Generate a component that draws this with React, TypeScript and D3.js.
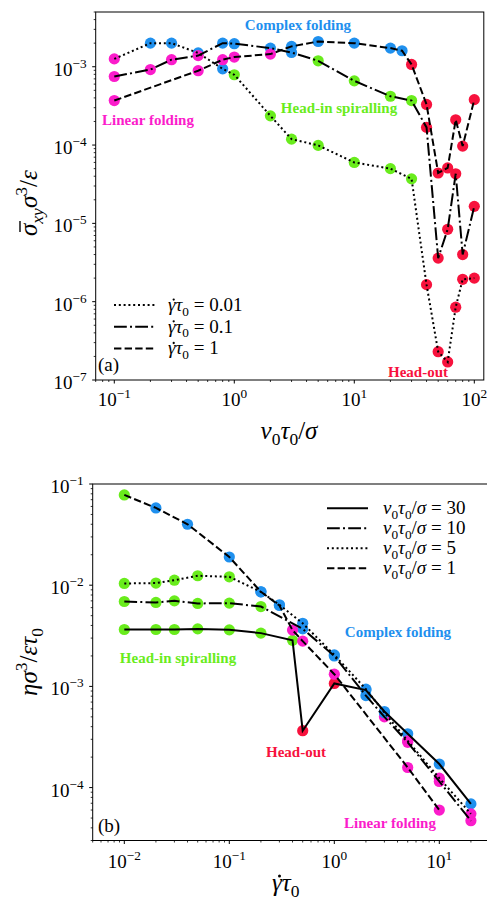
import React from 'react';
import * as d3 from 'd3';

const W = 487;
const H = 902;
const FONT = 'Liberation Serif';

type Phase = 'L' | 'C' | 'H' | 'O';
const PHASE_FILL: Record<Phase, string> = {
  L: '#fb1ccb',
  C: '#1f90ee',
  H: '#69ec1c',
  O: '#f7123d',
};

// ---------- Panel (a): mean shear stress vs. active speed v0*tau0/sigma ----------
const speedA_r001 = [0.1, 0.2, 0.3, 0.5, 0.8, 1, 2, 3, 5, 10, 20, 30, 40, 50, 60, 70, 80, 100];
const stressA_r001 = [1.26e-3, 2.0e-3, 2.0e-3, 1.5e-3, 9.4e-4, 7.9e-4, 2.36e-4, 1.19e-4, 9.9e-5, 6.0e-5, 5.0e-5, 3.7e-5, 1.65e-6, 2.3e-7, 1.7e-7, 8.5e-7, 1.93e-6, 2.0e-6];
const phaseA_r001: Phase[] = ['L', 'C', 'C', 'C', 'C', 'H', 'H', 'H', 'H', 'H', 'H', 'H', 'O', 'O', 'O', 'O', 'O', 'O'];

const speedA_r01 = [0.1, 0.2, 0.3, 0.5, 0.8, 1, 2, 3, 5, 10, 20, 30, 40, 50, 60, 70, 80, 100];
const stressA_r01 = [7.5e-4, 9.2e-4, 1.23e-3, 1.39e-3, 2.0e-3, 1.97e-3, 1.73e-3, 1.52e-3, 1.19e-3, 6.6e-4, 4.2e-4, 3.7e-4, 1.68e-4, 3.6e-6, 8.4e-6, 4.3e-5, 4.0e-6, 1.65e-5];
const phaseA_r01: Phase[] = ['L', 'L', 'L', 'L', 'C', 'C', 'C', 'C', 'H', 'H', 'H', 'H', 'O', 'O', 'O', 'O', 'O', 'O'];

const speedA_r1 = [0.1, 0.5, 0.8, 1, 2, 3, 5, 10, 20, 25, 30, 40, 50, 60, 70, 80, 100];
const stressA_r1 = [3.7e-4, 8.9e-4, 1.23e-3, 1.33e-3, 1.45e-3, 1.82e-3, 2.1e-3, 2.0e-3, 1.73e-3, 1.6e-3, 1.07e-3, 3.3e-4, 4.4e-5, 5.1e-5, 2.1e-4, 9.7e-5, 3.8e-4];
const phaseA_r1: Phase[] = ['L', 'L', 'L', 'L', 'L', 'C', 'C', 'C', 'C', 'C', 'O', 'O', 'O', 'O', 'O', 'O', 'O'];

const legendA = ['0.01', '0.1', '1'];

// ---------- Panel (b): viscosity vs. shear rate ----------
const rateB_v30 = [0.01, 0.02, 0.03, 0.05, 0.1, 0.2, 0.4, 0.5, 1, 2, 3, 5, 10, 20];
const viscB_v30 = [3.65e-3, 3.65e-3, 3.65e-3, 3.7e-3, 3.62e-3, 3.36e-3, 2.85e-3, 3.65e-4, 1.07e-3, 9.2e-4, 5.65e-4, 3.4e-4, 1.71e-4, 6.9e-5];
const phaseB_v30: Phase[] = ['H', 'H', 'H', 'H', 'H', 'H', 'H', 'O', 'O', 'C', 'C', 'C', 'C', 'C'];

const rateB_v10 = [0.01, 0.02, 0.03, 0.05, 0.1, 0.2, 0.5, 1, 2, 3, 5, 10, 20];
const viscB_v10 = [6.9e-3, 6.75e-3, 7.0e-3, 6.6e-3, 6.65e-3, 6.15e-3, 3.7e-3, 2.0e-3, 8.1e-4, 5.0e-4, 2.8e-4, 1.15e-4, 4.7e-5];
const phaseB_v10: Phase[] = ['H', 'H', 'H', 'H', 'H', 'H', 'C', 'C', 'C', 'L', 'L', 'L', 'L'];

const rateB_v5 = [0.01, 0.02, 0.03, 0.05, 0.1, 0.2, 0.3, 0.5, 1, 2, 3, 5, 10, 20];
const viscB_v5 = [1.04e-2, 1.05e-2, 1.12e-2, 1.24e-2, 1.21e-2, 8.6e-3, 6.4e-3, 4.2e-3, 2.05e-3, 9.4e-4, 5.5e-4, 2.9e-4, 1.24e-4, 5.5e-5];
const phaseB_v5: Phase[] = ['H', 'H', 'H', 'H', 'H', 'C', 'C', 'C', 'C', 'C', 'C', 'L', 'L', 'L'];

const rateB_v1 = [0.01, 0.02, 0.04, 0.1, 0.2, 0.3, 0.4, 0.5, 1, 5, 10];
const viscB_v1 = [7.8e-2, 5.8e-2, 4.0e-2, 1.9e-2, 8.6e-3, 6.3e-3, 3.6e-3, 2.8e-3, 1.32e-3, 1.58e-4, 6.0e-5];
const phaseB_v1: Phase[] = ['H', 'C', 'C', 'C', 'C', 'C', 'L', 'L', 'L', 'L', 'L'];

const legendB = ['30', '10', '5', '1'];

// line styles (dash patterns)
const DOTTED = '2,2.8';
const DASHDOT = '12.8,3.2,2,3.2';
const DASHED = '7.4,3.2';
const SOLID = 'none';

// ---------- scales ----------
const xA = d3.scaleLog().domain([0.07, 120]).range([95.7, 483.8]);
const yA = d3.scaleLog().domain([1e-7, 5e-3]).range([380, 12]);
const xB = d3.scaleLog().domain([0.005, 30]).range([92.7, 489.4]);
const yB = d3.scaleLog().domain([3e-5, 0.1]).range([840.5, 484]);

type Seg = { t: string; it?: boolean; sub?: boolean; sup?: boolean };

function mathSpans(segs: Seg[], fs: number) {
  let shift = 0;
  return segs.map((s, i) => {
    const target = s.sub ? 0.24 * fs : s.sup ? -0.42 * fs : 0;
    const dy = target - shift;
    shift = target;
    return (
      <tspan
        key={i}
        dy={dy}
        fontFamily={FONT}
        fontSize={s.sub || s.sup ? fs * 0.7 : fs}
        fontStyle={s.it ? 'italic' : 'normal'}
      >
        {s.t}
      </tspan>
    );
  });
}

function decadeLabel(k: number): Seg[] {
  return [{ t: '10' }, { t: k < 0 ? '\u2212' + Math.abs(k) : String(k), sup: true }];
}

function logTicks(domain: number[]) {
  const lo = Math.log10(domain[0]);
  const hi = Math.log10(domain[1]);
  const major: number[] = [];
  const minor: number[] = [];
  for (let k = Math.floor(lo); k <= Math.ceil(hi); k++) {
    for (let m = 1; m <= 9; m++) {
      const v = m * Math.pow(10, k);
      const lv = Math.log10(v);
      if (lv < lo - 1e-9 || lv > hi + 1e-9) continue;
      if (m === 1) major.push(k);
      else minor.push(v);
    }
  }
  return { major, minor };
}

type Series = { x: number[]; y: number[]; ph: Phase[]; dash: string };

const seriesA: Series[] = [
  { x: speedA_r001, y: stressA_r001, ph: phaseA_r001, dash: DOTTED },
  { x: speedA_r01, y: stressA_r01, ph: phaseA_r01, dash: DASHDOT },
  { x: speedA_r1, y: stressA_r1, ph: phaseA_r1, dash: DASHED },
];

const seriesB: Series[] = [
  { x: rateB_v30, y: viscB_v30, ph: phaseB_v30, dash: SOLID },
  { x: rateB_v10, y: viscB_v10, ph: phaseB_v10, dash: DASHDOT },
  { x: rateB_v5, y: viscB_v5, ph: phaseB_v5, dash: DOTTED },
  { x: rateB_v1, y: viscB_v1, ph: phaseB_v1, dash: DASHED },
];

function Panel({
  x,
  y,
  series,
  labelBaseX,
}: {
  x: d3.ScaleLogarithmic<number, number>;
  y: d3.ScaleLogarithmic<number, number>;
  series: Series[];
  labelBaseX: number;
}) {
  const [x0, x1] = x.range();
  const [y0, y1] = y.range(); // y0 bottom, y1 top
  const xt = logTicks(x.domain());
  const yt = logTicks(y.domain());
  const line = (s: Series) =>
    d3
      .line<number>()
      .x((_, i) => x(s.x[i]))
      .y((v) => y(v))(s.y) || '';
  return (
    <g>
      {/* markers */}
      {series.map((s, si) =>
        s.y.map((v, i) => (
          <circle key={`m${si}-${i}`} cx={x(s.x[i])} cy={y(v)} r={5.6} fill={PHASE_FILL[s.ph[i]]} />
        ))
      )}
      {/* lines */}
      {series.map((s, si) => (
        <path
          key={`l${si}`}
          d={line(s)}
          fill="none"
          stroke="#000"
          strokeWidth={2}
          strokeDasharray={s.dash === SOLID ? undefined : s.dash}
        />
      ))}
      {/* frame */}
      <rect x={x0} y={y1} width={x1 - x0} height={y0 - y1} fill="none" stroke="#000" strokeWidth={1} />
      {/* x ticks */}
      {xt.minor.map((v, i) => (
        <line key={`xm${i}`} x1={x(v)} x2={x(v)} y1={y0} y2={y0 + 2} stroke="#000" strokeWidth={0.8} />
      ))}
      {xt.major.map((k) => (
        <g key={`xM${k}`}>
          <line x1={x(Math.pow(10, k))} x2={x(Math.pow(10, k))} y1={y0} y2={y0 + 3.5} stroke="#000" strokeWidth={1} />
          <text x={x(Math.pow(10, k))} y={labelBaseX} textAnchor="middle" fontFamily={FONT} fontSize={19}>
            {mathSpans(decadeLabel(k), 19)}
          </text>
        </g>
      ))}
      {/* y ticks */}
      {yt.minor.map((v, i) => (
        <line key={`ym${i}`} x1={x0 - 2} x2={x0} y1={y(v)} y2={y(v)} stroke="#000" strokeWidth={0.8} />
      ))}
      {yt.major.map((k) => (
        <g key={`yM${k}`}>
          <line x1={x0 - 3.5} x2={x0} y1={y(Math.pow(10, k))} y2={y(Math.pow(10, k))} stroke="#000" strokeWidth={1} />
          <text x={x0 - 9} y={y(Math.pow(10, k)) + 9} textAnchor="end" fontFamily={FONT} fontSize={19}>
            {mathSpans(decadeLabel(k), 19)}
          </text>
        </g>
      ))}
    </g>
  );
}

function Note({ x, y, color, text }: { x: number; y: number; color: string; text: string }) {
  return (
    <text x={x} y={y} textAnchor="middle" fontFamily={FONT} fontWeight="bold" fontSize={15} fill={color}>
      {text}
    </text>
  );
}

// gamma-dot times tau_0, drawn from a start x; the dot is placed above the gamma
function GammaDotTau({ x, y, fs, suffix }: { x: number; y: number; fs: number; suffix?: string }) {
  return (
    <g>
      <text x={x} y={y} fontFamily={FONT} fontSize={fs}>
        {mathSpans(
          [
            { t: '\u03B3', it: true },
            { t: '\u03C4', it: true },
            { t: '0', sub: true },
            ...(suffix ? [{ t: suffix }] : []),
          ],
          fs
        )}
      </text>
      <circle cx={x + 0.3 * fs} cy={y - 0.6 * fs} r={fs * 0.06} fill="#000" />
    </g>
  );
}

const legendAStyles = [DOTTED, DASHDOT, DASHED];
const legendBStyles = [SOLID, DASHDOT, DOTTED, DASHED];

export default function App() {
  return (
    <svg
      width={W}
      height={H}
      viewBox={`0 0 ${W} ${H}`}
      fontFamily={FONT}
      style={{ position: 'absolute', left: 0, top: 0, background: '#fff' }}
    >
      <style>{`svg text, svg tspan { font-family: 'Liberation Serif'; }`}</style>
      <rect width={W} height={H} fill="#fff" />
      <Panel x={xA} y={yA} series={seriesA} labelBaseX={406} />
      <Panel x={xB} y={yB} series={seriesB} labelBaseX={868} />

      {/* panel (a) annotations */}
      <Note x={298} y={30} color={PHASE_FILL.C} text="Complex folding" />
      <Note x={148} y={125} color={PHASE_FILL.L} text="Linear folding" />
      <Note x={339} y={113} color={PHASE_FILL.H} text="Head-in spiralling" />
      <Note x={418} y={377} color={PHASE_FILL.O} text="Head-out" />
      <text x={98} y={371} fontFamily={FONT} fontSize={19}>(a)</text>

      {/* panel (a) legend */}
      {legendA.map((lab, i) => {
        const ly = 305 + i * 21.7;
        return (
          <g key={`la${i}`}>
            <line
              x1={114}
              x2={155}
              y1={ly}
              y2={ly}
              stroke="#000"
              strokeWidth={2}
              strokeDasharray={legendAStyles[i]}
            />
            <GammaDotTau x={168} y={ly + 6} fs={19} suffix={' = ' + lab} />
          </g>
        );
      })}

      {/* panel (a) axis titles */}
      <text x={289} y={439} textAnchor="middle" fontFamily={FONT} fontSize={25}>
        {mathSpans(
          [
            { t: 'v', it: true },
            { t: '0', sub: true },
            { t: '\u03C4', it: true },
            { t: '0', sub: true },
            { t: '/' },
            { t: '\u03C3', it: true },
          ],
          25
        )}
      </text>
      <g transform="translate(37,198) rotate(-90)">
        <text x={-38} y={0} fontFamily={FONT} fontSize={25}>
          {mathSpans(
            [
              { t: '\u03C3', it: true },
              { t: 'xy', it: true, sub: true },
              { t: '\u03C3', it: true },
              { t: '3', sup: true },
              { t: '/' },
              { t: '\u03B5', it: true },
            ],
            25
          )}
        </text>
        <line x1={-34} x2={-23} y1={-17} y2={-17} stroke="#000" strokeWidth={1.4} />
      </g>

      {/* panel (b) annotations */}
      <Note x={398} y={637} color={PHASE_FILL.C} text="Complex folding" />
      <Note x={178} y={663} color={PHASE_FILL.H} text="Head-in spiralling" />
      <Note x={296} y={757} color={PHASE_FILL.O} text="Head-out" />
      <Note x={390} y={828} color={PHASE_FILL.L} text="Linear folding" />
      <text x={98} y={832} fontFamily={FONT} fontSize={19}>(b)</text>

      {/* panel (b) legend */}
      {legendB.map((lab, i) => {
        const ly = 508.3 + i * 20;
        return (
          <g key={`lb${i}`}>
            <line
              x1={327}
              x2={368}
              y1={ly}
              y2={ly}
              stroke="#000"
              strokeWidth={2}
              strokeDasharray={legendBStyles[i] === SOLID ? undefined : legendBStyles[i]}
            />
            <text x={383} y={ly + 6} fontFamily={FONT} fontSize={19}>
              {mathSpans(
                [
                  { t: 'v', it: true },
                  { t: '0', sub: true },
                  { t: '\u03C4', it: true },
                  { t: '0', sub: true },
                  { t: '/' },
                  { t: '\u03C3', it: true },
                  { t: ' = ' + lab },
                ],
                19
              )}
            </text>
          </g>
        );
      })}

      {/* panel (b) axis titles */}
      <GammaDotTau x={272} y={891} fs={25} />
      <text
        transform="translate(37,662) rotate(-90)"
        textAnchor="middle"
        fontFamily={FONT}
        fontSize={25}
      >
        {mathSpans(
          [
            { t: '\u03B7', it: true },
            { t: '\u03C3', it: true },
            { t: '3', sup: true },
            { t: '/' },
            { t: '\u03B5', it: true },
            { t: '\u03C4', it: true },
            { t: '0', sub: true },
          ],
          25
        )}
      </text>
    </svg>
  );
}
